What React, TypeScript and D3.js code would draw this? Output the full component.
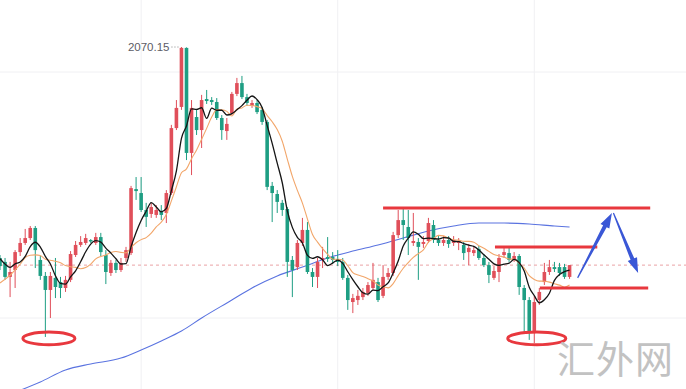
import React from 'react'
import * as d3 from 'd3'

const W = 686
const H = 389

// Candles, oldest first (price units)
const open = [
  1984.4, 1982.8, 1976.7, 1979.5, 1986.8, 1990.5, 1992.5, 1996.6, 1983.6, 1977.1,
  1971.4, 1976.3, 1974.6, 1972.2, 1975.5, 1985.6, 1989.7, 1990.5, 1991.7, 1990.5,
  1992.9, 1985.6, 1978.3, 1982.4, 1979.5, 1984.4, 1986.4, 2012.4, 2010.8, 2003.9,
  2002.3, 2001.9, 2003.5, 2002.7, 2010.8, 2037.2, 2045.8, 2069.8, 2027.1, 2041.7,
  2036.4, 2049.0, 2048.6, 2047.8, 2041.3, 2036.0, 2043.3, 2051.1, 2055.5, 2049.8,
  2046.2, 2047.4, 2044.6, 2039.7, 2013.7, 2010.4, 2006.8, 2004.3, 1983.6, 1980.7,
  1990.5, 1995.8, 1978.7, 1976.7, 1983.6, 1984.8, 1984.8, 1984.0, 1982.8, 1976.3,
  1966.5, 1967.3, 1968.5, 1970.2, 1972.2, 1974.6, 1969.0, 1976.7, 1978.3, 1993.7,
  1999.8, 1997.0, 1990.5, 1990.9, 1990.1, 1991.3, 1997.8, 1991.7, 1990.5, 1991.7,
  1990.5, 1990.5, 1989.7, 1986.8, 1986.4, 1988.1, 1984.4, 1981.5, 1976.3, 1978.7,
  1985.6, 1986.4, 1983.6, 1985.2, 1972.2, 1967.3, 1953.9, 1967.3, 1974.6, 1978.7,
  1980.7, 1980.7, 1980.7, 1976.7,
]
const high = [
  1985.6, 1984.4, 1982.8, 1987.6, 1992.5, 1996.2, 1997.4, 1997.4, 1985.2, 1978.7,
  1978.7, 1984.4, 1976.7, 1977.1, 1987.2, 1991.3, 1993.3, 1994.2, 1992.1, 1994.6,
  1994.6, 1987.6, 1983.6, 1983.6, 1984.4, 1988.9, 2013.7, 2017.3, 2017.3, 2006.8,
  2006.8, 2005.9, 2005.9, 2012.0, 2038.5, 2048.6, 2070.15, 2070.0, 2048.6, 2044.6,
  2050.7, 2052.7, 2049.8, 2049.4, 2042.5, 2041.3, 2051.9, 2057.6, 2058.4, 2051.1,
  2048.6, 2048.6, 2045.8, 2040.5, 2015.3, 2012.0, 2008.0, 2005.1, 1985.2, 1991.7,
  2000.7, 1999.0, 1980.3, 1984.4, 1988.9, 1992.9, 1986.8, 1987.6, 1984.4, 1977.5,
  1969.8, 1971.4, 1972.2, 1974.6, 1982.4, 1976.3, 1981.5, 1980.3, 1995.0, 2003.9,
  2004.7, 2003.9, 2002.7, 1992.5, 1993.3, 2000.7, 1999.8, 1993.3, 1993.3, 1993.3,
  1993.3, 1992.5, 1990.9, 1990.1, 1988.9, 1989.3, 1986.0, 1982.8, 1981.1, 1986.0,
  1988.5, 1988.9, 1986.8, 1986.0, 1973.4, 1968.5, 1969.0, 1972.2, 1982.4, 1983.6,
  1982.8, 1982.4, 1982.0, 1981.5,
]
const low = [
  1979.5, 1975.5, 1968.5, 1972.2, 1985.2, 1989.7, 1991.7, 1980.3, 1975.5, 1952.3,
  1960.0, 1968.1, 1968.1, 1970.6, 1974.6, 1984.8, 1988.9, 1989.7, 1990.5, 1989.7,
  1985.2, 1973.8, 1977.1, 1978.3, 1978.7, 1982.8, 1985.6, 2008.0, 2003.1, 1997.0,
  2000.7, 2000.7, 1999.8, 1998.6, 2010.0, 2036.4, 2044.6, 2024.2, 2018.1, 2034.4,
  2029.1, 2047.0, 2046.6, 2040.5, 2032.4, 2032.4, 2042.5, 2050.2, 2049.0, 2046.2,
  2045.4, 2042.9, 2038.5, 2012.0, 1999.0, 2002.7, 2001.5, 1976.7, 1968.5, 1979.5,
  1989.3, 1977.9, 1972.6, 1972.2, 1980.3, 1982.8, 1982.0, 1981.1, 1975.5, 1963.3,
  1962.0, 1965.3, 1967.3, 1969.0, 1971.4, 1966.5, 1968.1, 1975.5, 1977.1, 1992.5,
  1991.7, 1985.6, 1989.3, 1975.5, 1988.5, 1990.5, 1990.5, 1989.3, 1989.3, 1988.5,
  1989.3, 1987.6, 1983.6, 1981.5, 1985.2, 1983.6, 1980.7, 1974.2, 1975.5, 1974.6,
  1984.4, 1982.8, 1982.8, 1969.4, 1954.3, 1951.1, 1949.8, 1965.3, 1973.4, 1977.5,
  1978.7, 1977.1, 1975.9, 1975.9,
]
const close = [
  1981.1, 1976.7, 1978.7, 1986.8, 1990.5, 1992.5, 1996.6, 1987.6, 1977.1, 1971.4,
  1977.1, 1972.6, 1972.2, 1975.5, 1986.0, 1989.7, 1990.9, 1992.5, 1991.1, 1992.9,
  1986.8, 1978.7, 1982.4, 1979.5, 1982.4, 1987.6, 2012.8, 2011.6, 2003.9, 2001.1,
  2005.1, 2003.9, 2001.9, 2010.8, 2037.2, 2045.4, 2069.8, 2027.1, 2045.4, 2036.4,
  2048.6, 2048.2, 2047.8, 2041.3, 2036.4, 2038.9, 2051.1, 2055.5, 2049.8, 2047.4,
  2047.4, 2043.7, 2039.7, 2013.3, 2010.8, 2007.2, 2003.9, 1982.8, 1979.5, 1990.5,
  1995.8, 1978.7, 1976.7, 1982.8, 1984.4, 1984.0, 1983.6, 1982.8, 1976.3, 1967.3,
  1968.1, 1969.0, 1970.6, 1973.4, 1975.5, 1967.3, 1976.7, 1978.3, 1993.7, 1999.8,
  1997.8, 1992.5, 1991.3, 1988.9, 1990.9, 1998.6, 1991.7, 1990.5, 1991.7, 1990.1,
  1991.7, 1991.3, 1986.4, 1988.5, 1987.6, 1984.4, 1981.5, 1977.5, 1979.1, 1984.4,
  1986.8, 1983.6, 1985.2, 1972.6, 1967.3, 1953.9, 1966.5, 1970.6, 1978.7, 1980.7,
  1979.9, 1978.3, 1976.7, 1981.5,
]
// closes before the first visible bar, only used to seed the averages
const priorClose = [1961.2, 1962.4, 1965.3, 1967.3, 1965.3, 1987.6, 1985.6, 1979.5, 1986.8]

// long average (blue) at some bars
const longMaBar = [4, 8, 13, 18, 24, 28, 32, 36, 40, 46, 50, 55, 60, 65, 70, 75, 80, 85, 90, 95, 100, 105, 110, 113]
const longMaVal = [
  1930.6, 1934.0, 1938.9, 1941.3, 1943.7, 1947.0, 1950.7, 1954.7, 1960.0,
  1967.3, 1972.2, 1977.1, 1980.7, 1984.4, 1987.2, 1989.7, 1992.5, 1995.4, 1997.4,
  1998.6, 1998.6, 1998.2, 1997.4, 1997.0,
]

const gridPrices = [1960, 2060]
const gridBars = [28, 67, 106]

// hand-drawn marks
const levelPrice = [2004.7, 1988.9, 1972.2]
const levelFrom = [76, 98.2, 107.1]
const levelTo = [129, 118.5, 128.6]
const ringBar = [9.7, 106.5]
const ringPrice = [1951.7, 1951.7]
const arrowFrom = [[114.6, 1976.3], [121.7, 2002.7]]
const arrowTo = [[121.4, 2002.7], [126.6, 1978.3]]

const UP = '#e04f5a'
const DOWN = '#1e9e83'
const MARK = '#e8383e'
const ARROW = '#3a57d6'

const movingAvg = (n: number) => {
  const all = priorClose.concat(close)
  const off = priorClose.length
  return close.map((_, i) => d3.mean(all.slice(i + off - n + 1, i + off + 1)) as number)
}

// tapered arrow: thin tail, wider shaft, narrow head
const arrowPath = (x0: number, y0: number, x1: number, y1: number) => {
  const len = Math.hypot(x1 - x0, y1 - y0)
  const ux = (x1 - x0) / len, uy = (y1 - y0) / len
  const nx = -uy, ny = ux
  const headL = 15, headW = 10, w0 = 1.2, w1 = 4
  const bx = x1 - ux * headL, by = y1 - uy * headL
  const p = (px: number, py: number, s: number) => [px + nx * s, py + ny * s]
  const pts = [
    p(x0, y0, w0 / 2), p(bx, by, w1 / 2), p(bx, by, headW / 2), [x1, y1],
    p(bx, by, -headW / 2), p(bx, by, -w1 / 2), p(x0, y0, -w0 / 2),
  ]
  return 'M' + pts.map(d => d.join(',')).join('L') + 'Z'
}

const App = () => {
  const x = d3.scaleLinear().domain([0, 136.1]).range([0, W])
  const y = d3.scaleLinear().domain([1960, 2060]).range([318, 72])

  const ma5 = movingAvg(5)
  const ma10 = movingAvg(10)

  const maLine = d3.line<number>()
    .x((_, i) => x(i))
    .y(d => y(d))
    .curve(d3.curveMonotoneX)

  const longLine = d3.line<number>()
    .x((_, i) => x(longMaBar[i]))
    .y(d => y(d))
    .curve(d3.curveMonotoneX)

  const bodyW = 3.6
  const last = close[close.length - 1]
  const peakIdx = high.indexOf(d3.max(high) as number)

  return (
    <svg width={W} height={H} style={{ position: 'absolute', left: 0, top: 0, background: '#fff' }}>
      {gridPrices.map(p => (
        <line key={'h' + p} x1={0} x2={W} y1={y(p)} y2={y(p)} stroke="#f0f0f3" strokeWidth={1} />
      ))}
      {gridBars.map(b => (
        <line key={'v' + b} x1={x(b)} x2={x(b)} y1={0} y2={H} stroke="#f0f0f3" strokeWidth={1} />
      ))}
      <line x1={0} x2={W} y1={y(last)} y2={y(last)} stroke="#eaa3a6" strokeWidth={1} strokeDasharray="3,3" />

      <path d={longLine(longMaVal) || ''} fill="none" stroke="#5a73e0" strokeWidth={1.1} />

      {close.map((c, i) => {
        const col = c >= open[i] ? UP : DOWN
        const top = y(Math.max(c, open[i]))
        const h = Math.max(1, Math.abs(y(c) - y(open[i])))
        return (
          <g key={i}>
            <line x1={x(i)} x2={x(i)} y1={y(high[i])} y2={y(low[i])} stroke={col} strokeWidth={1} />
            <rect x={x(i) - bodyW / 2} y={top} width={bodyW} height={h} fill={col} />
          </g>
        )
      })}

      <path d={maLine(ma10) || ''} fill="none" stroke="#f2a66a" strokeWidth={1.1} />
      <path d={maLine(ma5) || ''} fill="none" stroke="#151515" strokeWidth={1.3} />

      {levelPrice.map((p, i) => (
        <line key={'l' + i} x1={x(levelFrom[i])} x2={x(levelTo[i])} y1={y(p)} y2={y(p)} stroke={MARK} strokeWidth={3} />
      ))}
      {ringBar.map((b, i) => (
        <ellipse key={'r' + i} cx={x(b)} cy={y(ringPrice[i])} rx={i === 0 ? 26 : 29} ry={6.3} fill="none" stroke={MARK} strokeWidth={3} />
      ))}
      {arrowFrom.map((f, i) => (
        <path key={'a' + i} d={arrowPath(x(f[0]), y(f[1]), x(arrowTo[i][0]), y(arrowTo[i][1]))} fill={ARROW} />
      ))}

      <text x={x(peakIdx) - 12} y={y(high[peakIdx]) + 4} textAnchor="end" fontFamily="Liberation Sans, Arial, sans-serif" fontSize={11.5} fill="#5c5c66">
        {high[peakIdx].toFixed(2)}
      </text>
      <line x1={x(peakIdx) - 10} x2={x(peakIdx) - 2} y1={y(high[peakIdx])} y2={y(high[peakIdx])} stroke="#888" strokeWidth={1} strokeDasharray="1,2" />

      <text x={557} y={373} fontFamily="Noto Sans CJK SC, sans-serif" fontSize={38} fill="#c2c2c2" letterSpacing={1}>
        汇外网
      </text>
    </svg>
  )
}

export default App
